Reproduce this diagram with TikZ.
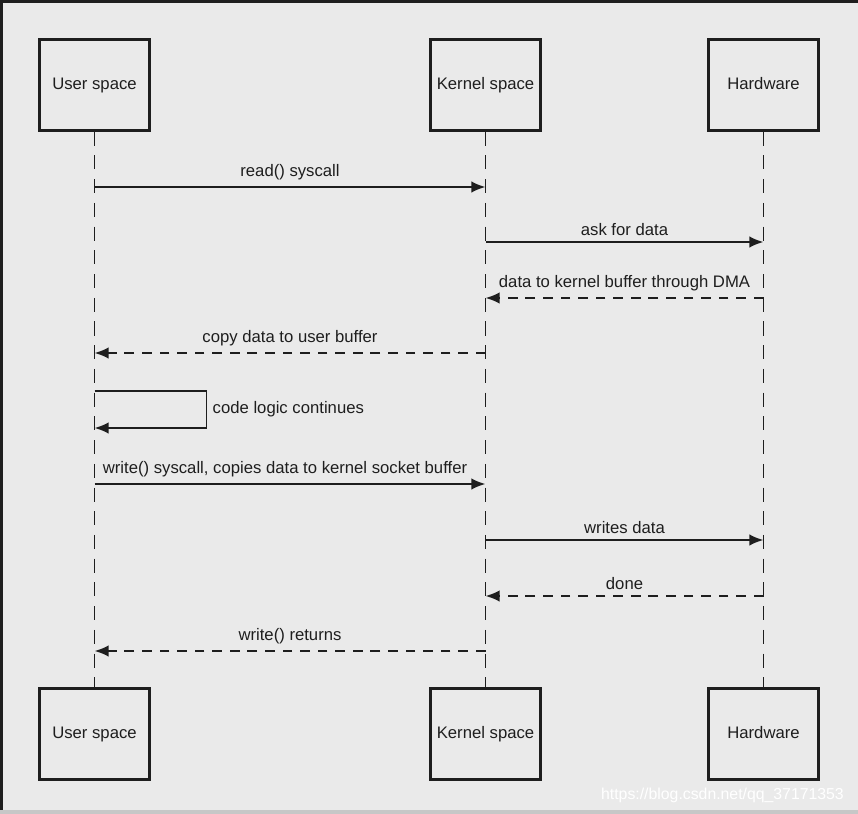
\documentclass[tikz,border=0pt]{standalone}
\usepackage{fontspec}
\setmainfont{Liberation Sans}
\usetikzlibrary{positioning,arrows.meta}
\definecolor{Bg}{RGB}{234,234,234}
\definecolor{Ink}{RGB}{30,30,30}
\definecolor{Edge}{RGB}{30,30,30}

\begin{document}
\begin{tikzpicture}[x=.02cm,y=-.02cm,
 b/.style={draw=Ink,line width=1.4pt,minimum width=2.2cm,minimum height=1.82cm,inner sep=0pt,text height=.72em,text depth=.2em,font=\fontsize{9.5}{11}\selectfont,text=Ink},
 l/.style={Ink,line width=1.1pt,dash pattern=on 8pt off 5.5pt},
 m/.style={-{Latex[length=8pt,width=6.5pt]},Ink,line width=1.1pt},
 r/.style={m,dash pattern=on 5.5pt off 4.5pt},
 t/.style={font=\fontsize{9.5}{11}\selectfont,text=Ink,above=0pt}]
\useasboundingbox (0,0) rectangle (858,814);
\fill[Bg] (0,0) rectangle (858,814);
\fill[Edge] (0,0) rectangle (858,3);
\fill[Edge] (0,0) rectangle (3,814);
\fill[black!22] (0,810) rectangle (858,814);
% actors
\node[b] (ut) at (94.5,85) {User space};
\node[b] (kt) at (485.5,85) {Kernel space};
\node[b] (ht) at (763.5,85) {Hardware};
\node[b] (ub) at (94.5,734) {User space};
\node[b] (kb) at (485.5,734) {Kernel space};
\node[b] (hb) at (763.5,734) {Hardware};
\draw[l] (ut)--(ub);\draw[l] (kt)--(kb);\draw[l] (ht)--(hb);
% message ends on the lifelines
\coordinate (u1) at (94.5,187);\coordinate (k1) at (485.5,187);
\coordinate (k2) at (485.5,242);\coordinate (h2) at (763.5,242);
\coordinate (k3) at (485.5,298);\coordinate (h3) at (763.5,298);
\coordinate (u4) at (94.5,353);\coordinate (k4) at (485.5,353);
\coordinate (u5) at (94.5,391);\coordinate (u6) at (94.5,428);
\coordinate (u7) at (94.5,484);\coordinate (k7) at (485.5,484);
\coordinate (k8) at (485.5,540);\coordinate (h8) at (763.5,540);
\coordinate (k9) at (485.5,596);\coordinate (h9) at (763.5,596);
\coordinate (u10) at (94.5,651);\coordinate (k10) at (485.5,651);
% messages
\draw[m] (u1)--(k1) node[t,midway] {read() syscall};
\draw[m] (k2)--(h2) node[t,midway] {ask for data};
\draw[r] (h3)--(k3) node[t,midway] {data to kernel buffer through DMA};
\draw[r] (k4)--(u4) node[t,midway] {copy data to user buffer};
\draw[m] (u5)--++(112,0) coordinate (s) |- (u6);
\node[font=\fontsize{9.5}{11}\selectfont,text=Ink,anchor=west] (cl) at (s|-0,409.5) {code logic continues};
\draw[m] (u7)--(k7) node[t,midway,xshift=-.1cm] {write() syscall, copies data to kernel socket buffer};
\draw[m] (k8)--(h8) node[t,midway] {writes data};
\draw[r] (h9)--(k9) node[t,midway] {done};
\draw[r] (k10)--(u10) node[t,midway] {write() returns};
\node[font=\fontsize{9}{10}\selectfont,text=white,anchor=east] (wm) at (850,795) {https://blog.csdn.net/qq\_37171353};
\end{tikzpicture}
\end{document}
